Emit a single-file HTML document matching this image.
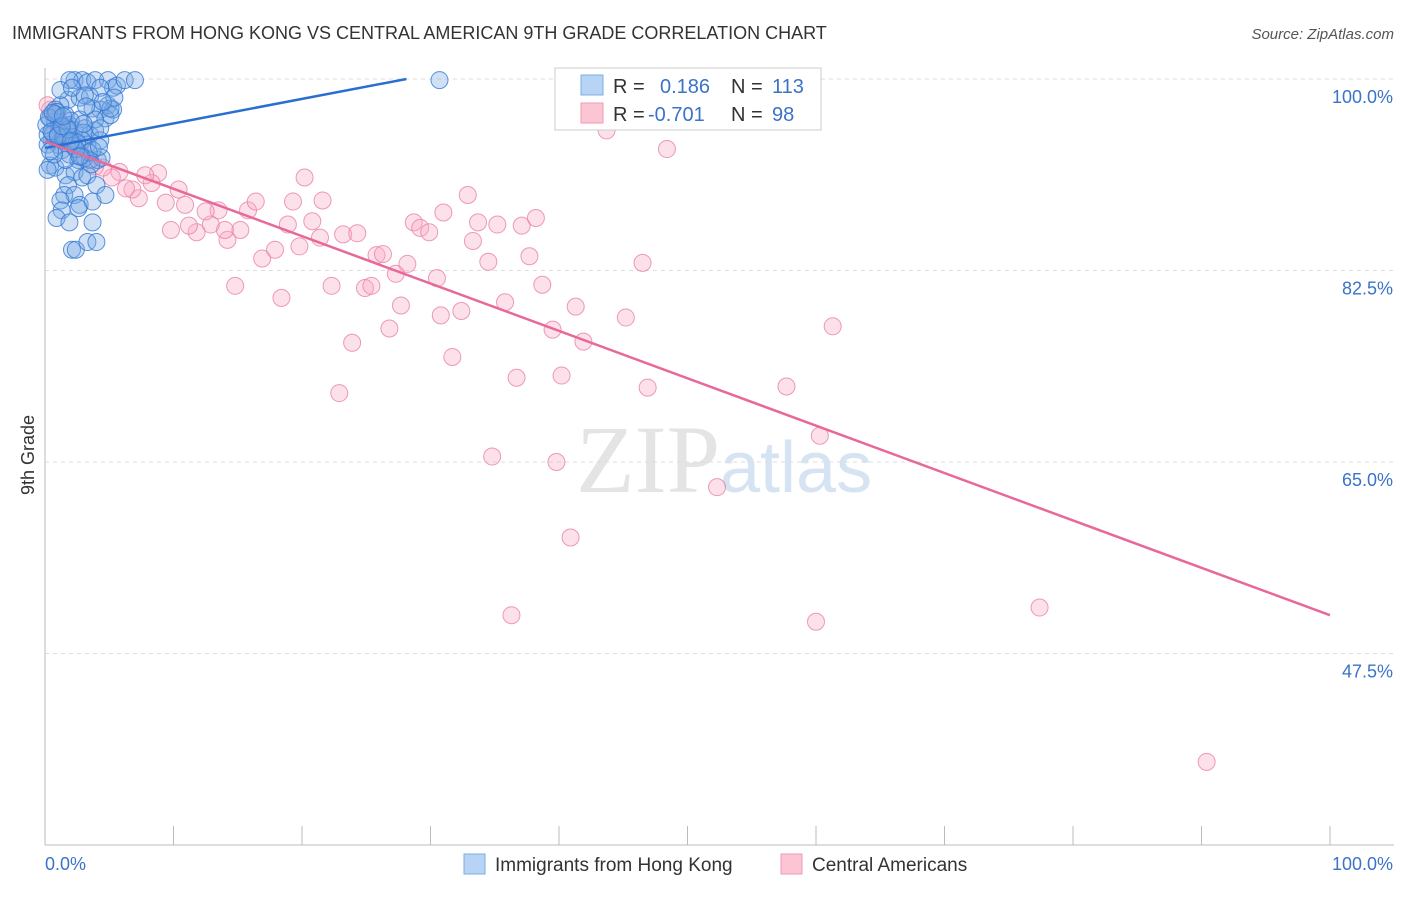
<!DOCTYPE html>
<html><head><meta charset="utf-8"><style>
body{margin:0;background:#fff;width:1406px;height:892px;overflow:hidden;font-family:"Liberation Sans",sans-serif}
</style></head><body>
<svg id="chart" width="1406" height="892" xmlns="http://www.w3.org/2000/svg">
<text x="12" y="39" font-size="18" fill="#333">IMMIGRANTS FROM HONG KONG VS CENTRAL AMERICAN 9TH GRADE CORRELATION CHART</text>
<text x="1394" y="39" font-size="15" fill="#555" text-anchor="end" font-style="italic">Source: ZipAtlas.com</text>
<text x="720" y="492" font-size="96" fill="#e4e4e4" text-anchor="end" font-family="Liberation Serif,serif">ZIP</text>
<text x="720" y="492" font-size="72" fill="#d5e3f3">atlas</text>
<text transform="translate(34,455) rotate(-90)" font-size="18" fill="#333" text-anchor="middle">9th Grade</text>
<g id="grid"></g><g id="axes"></g><g id="pts"></g><g id="lines"></g>
<g>
<rect x="555" y="68" width="266" height="62" fill="#fff" stroke="#ccc"/>
<rect x="581" y="75" width="22" height="20" fill="#b8d4f5" stroke="#7aaee8"/>
<rect x="581" y="103" width="22" height="20" fill="#fbc5d4" stroke="#ee9ab4"/>
<text x="613" y="93" font-size="20" fill="#333">R =</text>
<text x="660" y="93" font-size="20" fill="#3a73c8">0.186</text>
<text x="731" y="93" font-size="20" fill="#333">N =</text>
<text x="772" y="93" font-size="20" fill="#3a73c8">113</text>
<text x="613" y="121" font-size="20" fill="#333">R =</text>
<text x="648" y="121" font-size="20" fill="#3a73c8">-0.701</text>
<text x="731" y="121" font-size="20" fill="#333">N =</text>
<text x="772" y="121" font-size="20" fill="#3a73c8">98</text>
</g>
<g>
<rect x="464" y="854" width="21" height="20" fill="#b8d4f5" stroke="#7aaee8"/>
<text x="495" y="871" font-size="19" fill="#333">Immigrants from Hong Kong</text>
<rect x="781" y="854" width="21" height="20" fill="#fbc5d4" stroke="#ee9ab4"/>
<text x="812" y="871" font-size="19" fill="#333">Central Americans</text>
</g>
</svg>
<script>
const yTicks=[100,82.5,65,47.5];
const yTickLabels=["100.0%","82.5%","65.0%","47.5%"];
const xTicks=[0,10,20,30,40,50,60,70,80,90,100];
const xEndLabels=["0.0%","100.0%"];
const blueX=[2.3,2.9,3.3,3.9,4.9,5.3,5.6,6.2,7.0,30.7,4.3,1.9,1.8,2.7,3.5,4.9,5.3,1.2,0.8,4.3,4.7,5.1,3.7,0.4,0.8,1.2,1.6,1.9,2.3,2.7,3.1,3.5,3.9,4.3,0.5,1.0,1.3,1.9,2.6,3.1,3.5,4.1,4.4,0.4,0.8,1.6,2.3,2.9,3.3,4.0,1.8,1.5,2.3,2.7,3.7,4.7,1.2,1.3,2.6,0.9,1.9,3.7,2.1,2.4,3.3,4.0,0.2,0.2,0.1,5.1,5.4,4.5,1.2,2.1,3.1,3.9,3.3,4.3,2.1,1.6,1.0,2.9,3.7,0.7,0.2,0.6,1.4,2.2,3.0,1.1,2.5,3.4,1.7,0.3,0.9,2.0,2.8,1.5,0.5,3.6,1.0,2.4,0.8,1.8,2.7,3.2,0.6,1.3,2.0,4.2,3.0,1.4,0.4];
const blueY=[99.9,99.9,99.7,99.9,99.9,99.2,99.4,99.9,99.9,99.9,99.2,99.9,98.1,98.3,98.4,97.6,97.2,97.6,97.2,97.2,96.4,96.7,97.3,96.4,96.1,95.5,96.7,95.8,95.3,96.3,95.5,94.9,95.3,94.4,94.4,94.0,93.5,93.1,92.6,92.8,92.6,92.6,92.8,92.1,91.9,91.2,91.5,91.0,91.2,90.3,90.3,89.4,89.4,88.5,88.8,89.4,88.9,88.0,88.2,87.3,86.9,86.9,84.4,84.4,85.1,85.1,94.0,94.9,95.8,97.3,98.3,97.9,99.0,99.2,98.5,96.3,94.0,95.5,94.4,92.6,94.9,94.4,93.5,93.1,91.7,95.0,94.6,93.9,95.1,96.0,94.2,93.3,95.6,96.5,97.0,96.2,93.0,94.7,95.2,92.2,94.8,93.6,96.8,95.4,92.9,97.5,96.9,95.7,94.3,93.8,95.9,96.6,93.4];
const pinkX=[49.4,43.7,48.4,90.4,77.4,60.0,36.3,40.9,39.8,34.8,52.3,60.3,57.7,46.9,40.2,36.7,22.9,31.7,23.9,26.8,41.9,39.5,61.3,45.2,41.3,30.8,32.4,35.8,27.7,38.7,30.5,27.3,24.9,25.4,22.3,18.4,14.8,46.5,37.7,34.5,28.2,25.8,26.3,16.9,17.9,19.8,21.4,33.3,37.1,38.2,35.2,33.7,28.7,29.2,29.9,31.0,32.9,23.2,24.3,20.8,18.9,21.6,19.3,20.2,15.8,16.4,15.2,14.2,14.0,12.9,13.5,12.5,11.8,11.2,9.8,10.9,9.4,10.4,8.8,8.3,7.8,7.3,6.8,6.3,5.8,5.2,4.5,3.9,3.1,2.3,1.3,0.8,1.9,0.4,1.0,1.6,2.7,0.2];
const pinkY=[99.9,95.3,93.6,37.6,51.7,50.4,51.0,58.1,65.0,65.5,62.7,67.4,71.9,71.8,72.9,72.7,71.3,74.6,75.9,77.2,76.0,77.1,77.4,78.2,79.2,78.4,78.8,79.6,79.3,81.2,81.8,82.2,80.9,81.1,81.1,80.0,81.1,83.2,83.8,83.3,83.1,83.9,84.0,83.6,84.4,84.7,85.5,85.2,86.6,87.3,86.7,86.9,86.9,86.4,86.0,87.8,89.4,85.8,85.9,87.0,86.7,88.9,88.8,91.0,88.0,88.8,86.2,85.3,86.2,86.7,88.0,87.9,86.0,86.6,86.2,88.5,88.7,89.9,91.4,90.5,91.2,89.1,89.9,90.0,91.5,91.0,91.9,92.0,92.8,93.8,94.4,95.3,95.8,97.2,96.3,94.9,94.0,97.6];
const blueTrend=[93.7,0.224];
const pinkTrend=[94.3,-0.433];
const NS="http://www.w3.org/2000/svg";
const X=p=>45+p*12.85;
const Y=v=>79+(100-v)*10.943;
function mk(tag,attrs,parent){const e=document.createElementNS(NS,tag);for(const k in attrs)e.setAttribute(k,attrs[k]);document.getElementById(parent).appendChild(e);return e;}
yTicks.forEach((t,i)=>{
 const l=mk('line',{x1:45,x2:1394,y1:Y(t),y2:Y(t),stroke:'#ddd','stroke-dasharray':'4,4'},'grid');
 
 
 const tx=mk('text',{x:1393,y:Y(t)+24,'font-size':18,fill:'#3a73c8','text-anchor':'end'},'grid');tx.textContent=yTickLabels[i];
 
 
});
const ax=mk('line',{x1:45,x2:45,y1:68,y2:845,stroke:'#bbb'},'axes');


const bx=mk('line',{x1:45,x2:1394,y1:845,y2:845,stroke:'#bbb'},'axes');


xTicks.forEach(t=>{const l=mk('line',{x1:X(t),x2:X(t),y1:826,y2:845,stroke:'#bbb'},'axes');
 
 });
[[0,'start'],[100,'end']].forEach((d,i)=>{const t=mk('text',{x:X(d[0])+(i?63:0),y:870,'font-size':18,fill:'#3a73c8','text-anchor':d[1]},'axes');t.textContent=xEndLabels[i];
 
 });
pinkX.forEach((p,i)=>{const c=mk('circle',{cx:X(p),cy:Y(pinkY[i]),r:8.5,fill:'rgba(248,170,195,0.35)',stroke:'rgba(232,130,165,0.8)','stroke-width':1},'pts');
 
 });
blueX.forEach((p,i)=>{const c=mk('circle',{cx:X(p),cy:Y(blueY[i]),r:8.5,fill:'rgba(120,170,230,0.35)',stroke:'rgba(50,120,210,0.8)','stroke-width':1},'pts');
 
 });
const bEnd=Math.min(100,(100-blueTrend[0])/blueTrend[1]);
const bl=mk('line',{x1:X(0),y1:Y(blueTrend[0]),x2:X(bEnd),y2:Y(blueTrend[0]+blueTrend[1]*bEnd),stroke:'#2a6fd0','stroke-width':2.5},'lines');


const pl=mk('line',{x1:X(0),y1:Y(pinkTrend[0]),x2:X(100),y2:Y(pinkTrend[0]+pinkTrend[1]*100),stroke:'#e8689a','stroke-width':2.5},'lines');


</script>
</body></html>
